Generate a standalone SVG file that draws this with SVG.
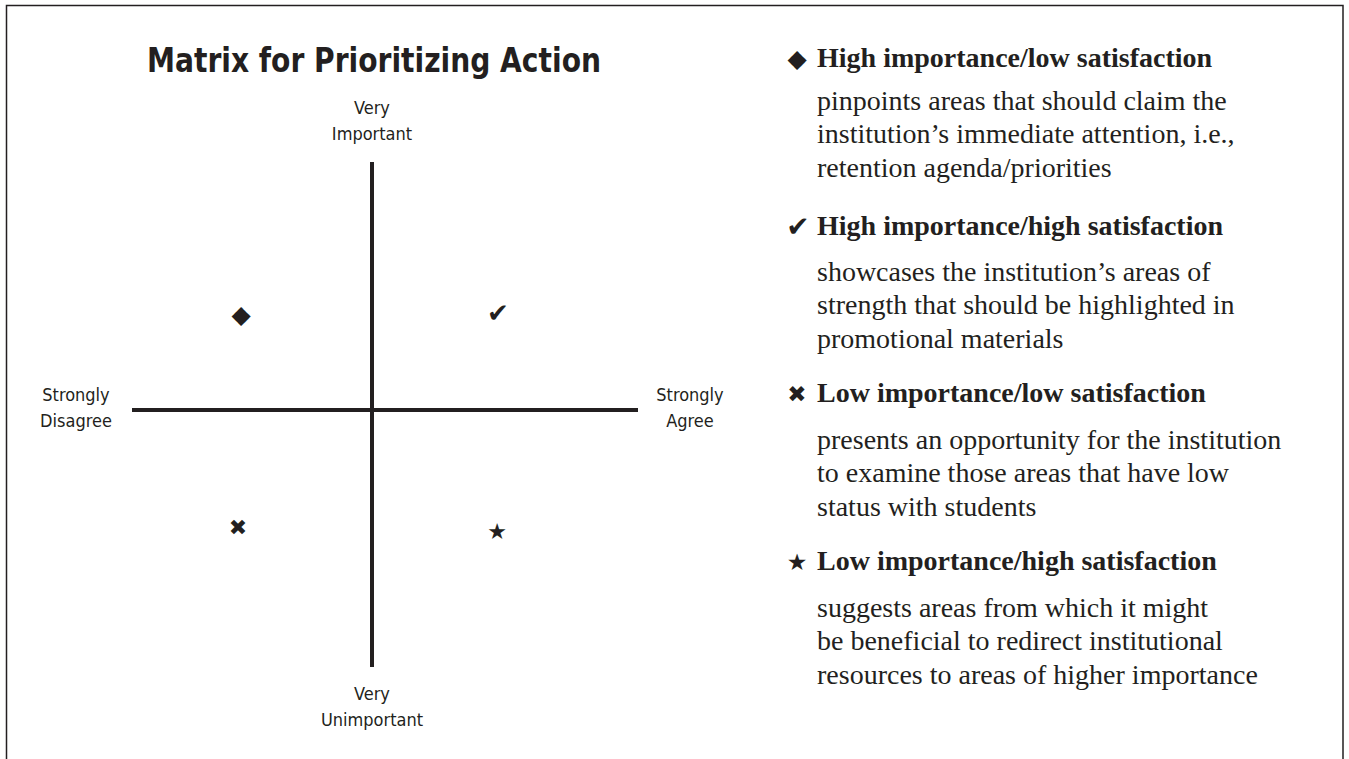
<svg xmlns="http://www.w3.org/2000/svg" width="1349" height="759" viewBox="0 0 1349 759">
<style>
.frame{fill:none;stroke:#231f20;stroke-width:1.5}
.axis{stroke:#231f20;stroke-width:4;fill:none}
.title{font-family:"DejaVu Sans Condensed","Liberation Sans",sans-serif;font-weight:bold;font-size:34px;fill:#231f20}
.lbl{font-family:"DejaVu Sans Condensed","Liberation Sans",sans-serif;font-size:18px;fill:#231f20;text-anchor:middle}
.sym{font-family:"DejaVu Sans",sans-serif;fill:#231f20;text-anchor:middle}
.hd{font-family:"Liberation Serif","Times New Roman",serif;font-weight:bold;font-size:28px;fill:#231f20}
.bd{font-family:"Liberation Serif","Times New Roman",serif;font-size:28px;fill:#231f20}
</style>
<rect width="1349" height="759" fill="#ffffff"/>
<path class="frame" d="M6.5,759 V5.5 H1343 V759"/>
<g id="title"><text class="title" x="147" y="72" textLength="454" lengthAdjust="spacingAndGlyphs">Matrix for Prioritizing Action</text></g>
<g id="axes">
<line class="axis" x1="372" y1="162" x2="372" y2="667"/>
<line class="axis" x1="132" y1="410" x2="638" y2="410"/>
</g>
<g id="label-top"><text class="lbl" x="372" y="114">Very</text><text class="lbl" x="372" y="140">Important</text></g>
<g id="label-bottom"><text class="lbl" x="372" y="700">Very</text><text class="lbl" x="372" y="726">Unimportant</text></g>
<g id="label-left"><text class="lbl" x="76" y="401">Strongly</text><text class="lbl" x="76" y="427">Disagree</text></g>
<g id="label-right"><text class="lbl" x="690" y="401">Strongly</text><text class="lbl" x="690" y="427">Agree</text></g>
<g id="q-diamond"><text class="sym" x="241" y="323" font-size="25">◆</text></g>
<g id="q-check"><text class="sym" x="498" y="322" font-size="26">✔</text></g>
<g id="q-cross"><text class="sym" x="238" y="535" font-size="22">✖</text></g>
<g id="q-star"><text class="sym" x="497" y="539" font-size="22">★</text></g>
<g id="legend-1">
<text class="sym" x="797" y="67" font-size="25">◆</text>
<text class="hd" x="817" y="67">High importance/low satisfaction</text>
<text class="bd" x="817" y="110">pinpoints areas that should claim the</text>
<text class="bd" x="817" y="143">institution’s immediate attention, i.e.,</text>
<text class="bd" x="817" y="177">retention agenda/priorities</text>
</g>
<g id="legend-2">
<text class="sym" x="798" y="236" font-size="28">✔</text>
<text class="hd" x="817" y="235">High importance/high satisfaction</text>
<text class="bd" x="817" y="281">showcases the institution’s areas of</text>
<text class="bd" x="817" y="314">strength that should be highlighted in</text>
<text class="bd" x="817" y="348">promotional materials</text>
</g>
<g id="legend-3">
<text class="sym" x="797" y="402" font-size="23">✖</text>
<text class="hd" x="817" y="402">Low importance/low satisfaction</text>
<text class="bd" x="817" y="449">presents an opportunity for the institution</text>
<text class="bd" x="817" y="482">to examine those areas that have low</text>
<text class="bd" x="817" y="516">status with students</text>
</g>
<g id="legend-4">
<text class="sym" x="797" y="570" font-size="23">★</text>
<text class="hd" x="817" y="570">Low importance/high satisfaction</text>
<text class="bd" x="817" y="617">suggests areas from which it might</text>
<text class="bd" x="817" y="650">be beneficial to redirect institutional</text>
<text class="bd" x="817" y="684">resources to areas of higher importance</text>
</g>
</svg>
